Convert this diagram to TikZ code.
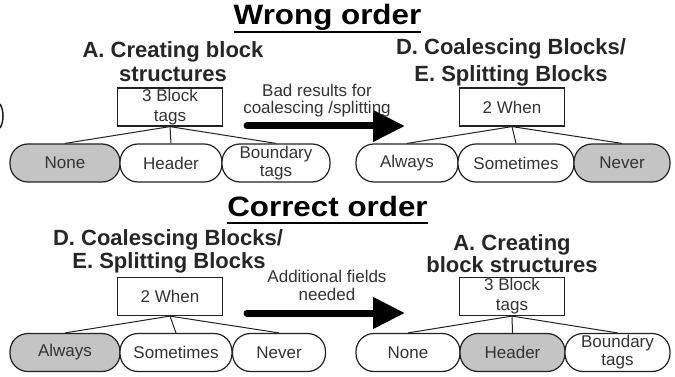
\documentclass[tikz,border=0pt]{standalone}
\usepackage{fontspec}
\setmainfont{Liberation Sans}
\usetikzlibrary{arrows.meta}
\definecolor{txt}{HTML}{333333}
\definecolor{shade}{HTML}{C4C4C4}
\definecolor{edge}{HTML}{222222}
\tikzset{
  titletext/.style={inner sep=0pt, anchor=base, font=\fontsize{28}{30}\selectfont\bfseries, text=black},
  subtext/.style={inner sep=0pt, anchor=base, font=\fontsize{22}{24}\selectfont\bfseries, text=black!85},
  labeltext/.style={inner sep=0pt, anchor=base, font=\fontsize{17}{19}\selectfont, text=txt},
  tagbox/.style={draw=edge, line width=1.2pt, inner sep=0pt, minimum width=105pt, minimum height=38pt,
     align=center, font=\fontsize{17}{20}\selectfont, text=txt},
  oval/.style={draw=edge, line width=1.2pt, rounded corners=18pt, inner sep=0pt, minimum height=38pt,
     align=center, font=\fontsize{17}{18}\selectfont, text=txt, fill=white},
  graybg/.style={fill=shade},
  branch/.style={draw=edge, line width=1pt},
  bigarrow/.style={line width=7pt, line cap=round, -{Triangle[length=32pt,width=30pt]}},
  uline/.style={line width=2pt}
}
\begin{document}
\begin{tikzpicture}[x=1pt,y=-1pt]
\useasboundingbox (0,0) rectangle (675,377);

% left edge artifact
\draw[line width=1.5pt, edge] (0,104) .. controls (4,110) and (4,122) .. (0,128);

% ===== Wrong order =====
\node[titletext] (t1) at (327.5,25) {\scalebox{1.12}[1]{Wrong order}};
\draw[uline] ([yshift=-7pt]t1.base west) -- ([yshift=-7pt]t1.base east);

\node[subtext] (s1a) at (173,58) {A. Creating block};
\node[subtext] (s1b) at (173,82) {structures};
\node[tagbox] (b1) at (170,107) {3 Block\\tags};
\node[oval, graybg, minimum width=110pt] (n1) at (65,163) {None};
\node[oval, minimum width=102pt] (h1) at (171,163) {Header};
\node[oval, minimum width=108pt] (bt1) at (276,163) {Boundary\\tags};
\draw[branch] (b1.south) -- (n1.north);
\draw[branch] (b1.south) -- (h1.north);
\draw[branch] (b1.south) -- (bt1.north);

\node[subtext] (s2a) at (511,55) {D. Coalescing Blocks/};
\node[subtext] (s2b) at (511,82) {E. Splitting Blocks};
\node[tagbox] (b2) at (512,107) {2 When};
\node[oval, minimum width=102pt] (al1) at (407,163) {Always};
\node[oval, minimum width=116pt] (so1) at (516,163) {Sometimes};
\node[oval, graybg, minimum width=96pt] (ne1) at (622,163) {Never};
\draw[branch] (b2.south) -- (al1.north);
\draw[branch] (b2.south) -- (so1.north);
\draw[branch] (b2.south) -- (ne1.north);

\coordinate (a1s) at (247,126);
\coordinate (a1e) at (405,126);
\draw[bigarrow] (a1s) -- (a1e);
\node[labeltext] (l1a) at (317,97) {Bad results for};
\node[labeltext] (l1b) at (317,114) {coalescing /splitting};

% ===== Correct order =====
\node[titletext] (t2) at (327.5,216) {\scalebox{1.12}[1]{Correct order}};
\draw[uline] ([yshift=-7pt]t2.base west) -- ([yshift=-7pt]t2.base east);

\node[subtext] (s3a) at (168,245) {D. Coalescing Blocks/};
\node[subtext] (s3b) at (169,268) {E. Splitting Blocks};
\node[tagbox] (b3) at (170,296.5) {2 When};
\node[oval, graybg, minimum width=110pt] (al2) at (65,352.5) {Always};
\node[oval, minimum width=112pt] (so2) at (176,352.5) {Sometimes};
\node[oval, minimum width=93pt] (ne2) at (279,352.5) {Never};
\draw[branch] (b3.south) -- (al2.north);
\draw[branch] (b3.south) -- (so2.north);
\draw[branch] (b3.south) -- (ne2.north);

\node[subtext] (s4a) at (512,250) {A. Creating};
\node[subtext] (s4b) at (512,272) {block structures};
\node[tagbox] (b4) at (512,296.5) {3 Block\\tags};
\node[oval, minimum width=104pt] (n2) at (408,352.5) {None};
\node[oval, graybg, minimum width=105pt] (h2) at (512.5,352.5) {Header};
\node[oval, minimum width=105pt] (bt2) at (617.5,352.5) {Boundary\\tags};
\draw[branch] (b4.south) -- (n2.north);
\draw[branch] (b4.south) -- (h2.north);
\draw[branch] (b4.south) -- (bt2.north);

\coordinate (a2s) at (247,313);
\coordinate (a2e) at (405,313);
\draw[bigarrow] (a2s) -- (a2e);
\node[labeltext] (l2a) at (327,282) {Additional fields};
\node[labeltext] (l2b) at (327,300) {needed};
\end{tikzpicture}
\end{document}
